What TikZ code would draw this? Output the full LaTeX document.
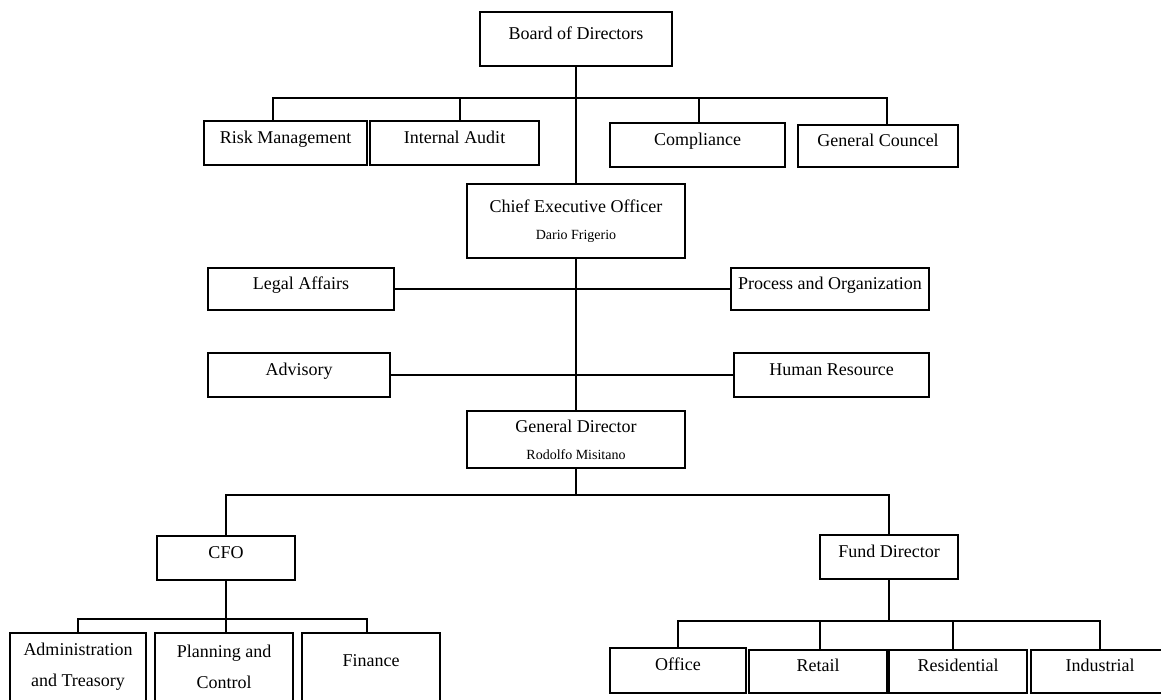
\documentclass[tikz,border=0pt]{standalone}
\usepackage{fontspec}
\setmainfont{Liberation Serif}
\begin{document}
\begin{tikzpicture}[x=1pt,y=-1pt,
  box/.style={draw, line width=1.2pt, rectangle, inner sep=0pt,
    font=\fontsize{18}{22}\selectfont, text height=8pt, text depth=8pt},
  boxtwo/.style={draw, line width=1.2pt, rectangle, inner sep=0pt, align=center},
  conn/.style={line width=1.2pt}]
\useasboundingbox (0,0) rectangle (1161,699);

% top level
\node[box, minimum width=192pt, minimum height=54pt] (bd) at (576,39) {Board of Directors};
\node[box, minimum width=163pt, minimum height=44pt] (rm) at (285.5,143) {Risk Management};
\node[box, minimum width=169pt, minimum height=44pt] (ia) at (454.5,143) {Internal Audit};
\node[box, minimum width=175pt, minimum height=44pt] (co) at (697.5,145) {Compliance};
\node[box, minimum width=160pt, minimum height=42pt] (gc) at (878,146) {General Councel};

% CEO
\node[boxtwo, minimum width=218pt, minimum height=74pt, font=\fontsize{18}{27}\selectfont] (ceo) at (576,221)
  {Chief Executive Officer\\{\fontsize{14}{27}\selectfont Dario Frigerio}};
\node[box, minimum width=186pt, minimum height=42pt] (la) at (301,289) {Legal Affairs};
\node[box, minimum width=198pt, minimum height=42pt] (po) at (830,289) {Process and Organization};
\node[box, minimum width=182pt, minimum height=44pt] (adv) at (299,375) {Advisory};
\node[box, minimum width=195pt, minimum height=44pt] (hr) at (831.5,375) {Human Resource};

% General Director
\node[boxtwo, minimum width=218pt, minimum height=57pt, font=\fontsize{18}{27}\selectfont] (gd) at (576,439.5)
  {General Director\\{\fontsize{14}{27}\selectfont Rodolfo Misitano}};

% CFO branch
\node[box, minimum width=138pt, minimum height=44pt] (cfo) at (226,558) {CFO};
\node[boxtwo, minimum width=136pt, minimum height=67.5pt, font=\fontsize{18}{31}\selectfont] (adm) at (78,666.75) {Administration\\and Treasory};
\node[boxtwo, minimum width=138pt, minimum height=67.5pt, font=\fontsize{18}{31}\selectfont] (pc) at (224,666.75) {Planning and\\Control};
\node[box, minimum width=138pt, minimum height=67.5pt] (fin) at (371,666.75) {Finance};

% Fund branch
\node[box, minimum width=138pt, minimum height=44pt] (fd) at (889,557) {Fund Director};
\node[box, minimum width=136pt, minimum height=45pt] (of) at (678,670.5) {Office};
\node[box, minimum width=138pt, minimum height=43pt] (re) at (818,671.5) {Retail};
\node[box, minimum width=138pt, minimum height=43pt] (res) at (958,671.5) {Residential};
\node[box, minimum width=138pt, minimum height=43pt] (ind) at (1100,671.5) {Industrial};

% junctions
\coordinate (j1) at (576,98);
\coordinate (j2) at (576,495);
\coordinate (j3) at (226,619);
\coordinate (j4) at (889,621);

% connectors
\draw[conn] (bd.south) -- (ceo.north);
\draw[conn] ([xshift=-12.5pt]rm.north) |- (j1) -| ([xshift=9pt]gc.north);
\draw[conn] ([xshift=5.5pt]ia.north) -- ([xshift=5.5pt]ia.north |- j1);
\draw[conn] ([xshift=1.5pt]co.north) -- ([xshift=1.5pt]co.north |- j1);

\draw[conn] (ceo.south) -- (gd.north);
\draw[conn] (la.east) -- (po.west);
\draw[conn] (adv.east) -- (hr.west);

\draw[conn] (gd.south) -- (j2);
\draw[conn] (cfo.north) |- (j2) -| (fd.north);

\draw[conn] (cfo.south) -- (cfo.south |- pc.north);
\draw[conn] (adm.north) |- (j3) -| ([xshift=-4pt]fin.north);

\draw[conn] (fd.south) -- (j4);
\draw[conn] (of.north) |- (j4) -| (ind.north);
\draw[conn] ([xshift=2pt]re.north) -- ([xshift=2pt]re.north |- j4);
\draw[conn] ([xshift=-5pt]res.north) -- ([xshift=-5pt]res.north |- j4);
\end{tikzpicture}
\end{document}
